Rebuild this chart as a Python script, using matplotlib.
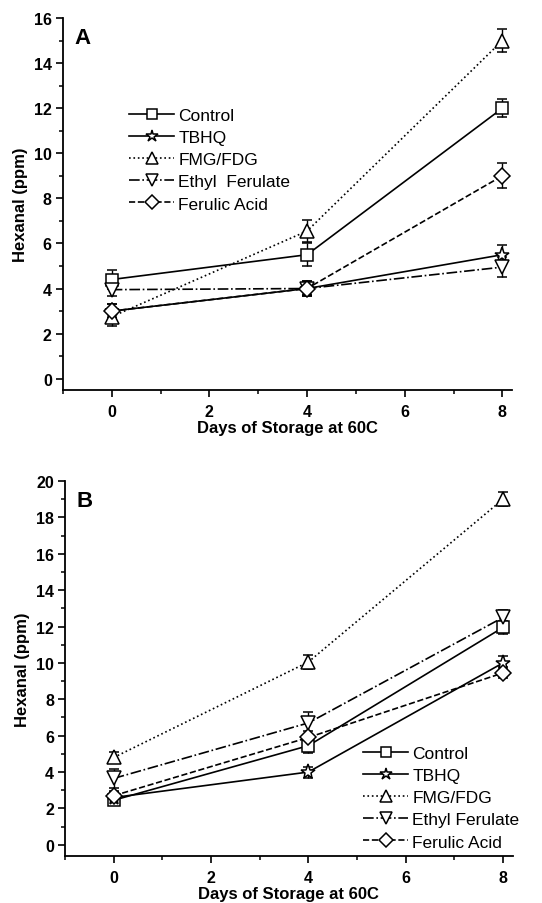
import matplotlib
matplotlib.use("Agg")
import matplotlib.pyplot as plt
from matplotlib.ticker import MultipleLocator

plt.rcParams['font.family'] = ['Liberation Sans', 'DejaVu Sans']

days = [0, 4, 8]
series = ["Control", "TBHQ", "FMG/FDG", "Ethyl Ferulate", "Ferulic Acid"]
labels_a = ["Control", "TBHQ", "FMG/FDG", "Ethyl  Ferulate", "Ferulic Acid"]
labels_b = ["Control", "TBHQ", "FMG/FDG", "Ethyl Ferulate", "Ferulic Acid"]

# Panel A values and errors
a_control = [4.4, 5.5, 12.0]
a_tbhq = [3.0, 4.0, 5.5]
a_fmg = [2.75, 6.55, 15.0]
a_ethyl = [3.95, 4.0, 4.95]
a_ferulic = [3.0, 4.0, 9.0]
a_control_err = [0.4, 0.5, 0.4]
a_tbhq_err = [0.3, 0.35, 0.45]
a_fmg_err = [0.4, 0.5, 0.5]
a_ethyl_err = [0.3, 0.3, 0.45]
a_ferulic_err = [0.3, 0.35, 0.55]

# Panel B values and errors
b_control = [2.45, 5.45, 11.95]
b_tbhq = [2.6, 4.0, 10.0]
b_fmg = [4.8, 10.05, 19.0]
b_ethyl = [3.65, 6.7, 12.5]
b_ferulic = [2.7, 5.9, 9.45]
b_control_err = [0.25, 0.4, 0.35]
b_tbhq_err = [0.3, 0.3, 0.4]
b_fmg_err = [0.3, 0.4, 0.4]
b_ethyl_err = [0.5, 0.6, 0.4]
b_ferulic_err = [0.25, 0.35, 0.3]

markers = ['s', '*', '^', 'v', 'D']
msizes = [8, 11, 10, 10, 8]
styles = ['-', '-', ':', '-.', '--']

fig = plt.figure(figsize=(5.42, 9.04), dpi=100)

def draw(ax, vals, errs, labels, ylim, ymajor, panel, leg_anchor):
    handles = []
    for v, e, m, ms, ls, lab in zip(vals, errs, markers, msizes, styles, labels):
        h = ax.errorbar(days, v, yerr=e, color='black', lw=1.2, ls=ls,
                        marker=m, ms=ms, mfc='white', mec='black', mew=1.1,
                        capsize=3.5, capthick=1.0, elinewidth=1.0, label=lab)
        handles.append(h)
    ax.set_xlim(-1, 8.2)
    ax.set_ylim(*ylim)
    ax.xaxis.set_major_locator(MultipleLocator(2))
    ax.xaxis.set_minor_locator(MultipleLocator(1))
    ax.yaxis.set_major_locator(MultipleLocator(ymajor))
    ax.yaxis.set_minor_locator(MultipleLocator(ymajor / 2))
    for s in ['top', 'right']:
        ax.spines[s].set_visible(False)
    for s in ['left', 'bottom']:
        ax.spines[s].set_linewidth(1.3)
    ax.tick_params(which='major', direction='out', length=5, width=1.2, labelsize=11.5)
    ax.tick_params(axis='x', which='major', pad=5)
    ax.tick_params(axis='y', which='major', pad=3)
    ax.tick_params(which='minor', direction='out', length=3, width=1.1)
    for t in ax.get_xticklabels() + ax.get_yticklabels():
        t.set_fontweight('bold')
    ax.set_xlabel("Days of Storage at 60C", fontsize=12, fontweight='bold', labelpad=1)
    ax.set_ylabel("Hexanal (ppm)", fontsize=12, fontweight='bold', labelpad=4)
    ax.text(0.025, 0.975, panel, transform=ax.transAxes, fontsize=16, fontweight='bold',
            ha='left', va='top')
    hs = [h.lines[0] for h in handles]
    ax.legend(hs, labels, loc='upper left', bbox_to_anchor=leg_anchor,
              bbox_transform=fig.transFigure, frameon=False, fontsize=12.5,
              handlelength=2.6, handletextpad=0.25, labelspacing=0.4,
              borderpad=0, borderaxespad=0, markerscale=0.85)

axA = fig.add_axes([0.116, 0.5675, 0.829, 0.4115])
draw(axA, [a_control, a_tbhq, a_fmg, a_ethyl, a_ferulic],
     [a_control_err, a_tbhq_err, a_fmg_err, a_ethyl_err, a_ferulic_err],
     labels_a, (-0.5, 16), 2, "A", (129 / 542, 1 - 109 / 904))

axB = fig.add_axes([0.12, 0.0523, 0.826, 0.4145])
draw(axB, [b_control, b_tbhq, b_fmg, b_ethyl, b_ferulic],
     [b_control_err, b_tbhq_err, b_fmg_err, b_ethyl_err, b_ferulic_err],
     labels_b, (-0.6, 20), 2, "B", (363 / 542, 1 - 747 / 904))

fig.savefig("out.png", dpi=100)
